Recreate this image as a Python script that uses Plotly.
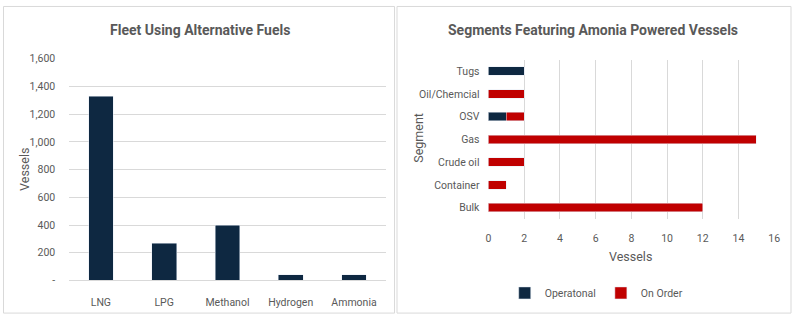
import plotly.graph_objects as go

W, H = 798, 322

fuels = ["LNG", "LPG", "Methanol", "Hydrogen", "Ammonia"]
fleet = [1330, 270, 400, 40, 40]

segments = ["Bulk", "Container", "Crude oil", "Gas", "OSV", "Oil/Chemcial", "Tugs"]
operational = [0, 0, 0, 0, 1, 0, 2]
on_order = [12, 1, 2, 15, 1, 2, 0]

left_ticks = [0, 200, 400, 600, 800, 1000, 1200, 1400, 1600]
left_ticktext = ["-", "200", "400", "600", "800", "1,000", "1,200", "1,400", "1,600"]

NAVY = "#0E2841"
RED = "#C00000"
TXT = "#595959"
GRID = "#D9D9D9"
FONT = "Roboto, Arial, sans-serif"
TICK = dict(size=10.5, color=TXT, family=FONT)

def px(x):
    return x / W

def py(y):
    return 1 - y / H

fig = go.Figure()

fig.add_trace(go.Bar(x=fuels, y=fleet, marker_color=NAVY, width=0.39,
                     xaxis="x", yaxis="y", showlegend=False))
fig.add_trace(go.Bar(y=segments, x=operational, orientation="h", marker_color=NAVY,
                     name="Operatonal", width=0.37, xaxis="x2", yaxis="y2"))
fig.add_trace(go.Bar(y=segments, x=on_order, orientation="h", marker_color=RED,
                     name="On Order", width=0.37, xaxis="x2", yaxis="y2"))

fig.update_layout(
    width=W, height=H,
    margin=dict(l=0, r=0, t=0, b=0),
    paper_bgcolor="white", plot_bgcolor="white",
    barmode="stack",
    font=dict(family=FONT, size=11, color=TXT),
    xaxis=dict(domain=[px(67), px(387)], anchor="y", showgrid=False,
               showline=True, linecolor=GRID, ticks="", tickfont=TICK,
               ticklabelstandoff=12),
    yaxis=dict(domain=[py(286), py(55)], anchor="x", range=[0, 1600],
               tickvals=left_ticks, ticktext=left_ticktext, showgrid=True,
               gridcolor=GRID, zeroline=False, ticks="", tickfont=TICK,
               ticklabelstandoff=13),
    xaxis2=dict(domain=[px(491), px(780)], anchor="y2", range=[0, 16], dtick=2,
                showgrid=True, gridcolor=GRID, zeroline=False, ticks="",
                tickfont=TICK, ticklabelstandoff=11),
    yaxis2=dict(domain=[py(222), py(56)], anchor="x2", categoryorder="array",
                categoryarray=segments, showgrid=False, ticks="",
                tickfont=TICK, ticklabelstandoff=8),
    legend=dict(orientation="h", x=px(600), xanchor="center", y=py(299), yanchor="middle",
                font=dict(size=10.5, color=TXT), traceorder="normal", itemwidth=30),
    shapes=[
        dict(type="rect", xref="paper", yref="paper", x0=px(0.5), x1=px(396), y0=py(320), y1=py(0.5),
             line=dict(color=GRID, width=1)),
        dict(type="rect", xref="paper", yref="paper", x0=px(398.5), x1=px(797), y0=py(320), y1=py(0.5),
             line=dict(color=GRID, width=1)),
    ],
    annotations=[
        dict(text="<b>Fleet Using Alternative Fuels</b>", x=px(199), y=py(25), xref="paper", yref="paper",
             xanchor="center", yanchor="middle",
             showarrow=False, font=dict(size=14, color=TXT, family=FONT)),
        dict(text="<b>Segments Featuring Amonia Powered Vessels</b>", x=px(597), y=py(25), xref="paper",
             yref="paper", xanchor="center", yanchor="middle",
             showarrow=False, font=dict(size=14, color=TXT, family=FONT)),
        dict(text="Vessels", x=px(21), y=py(170), xref="paper", yref="paper", textangle=-90,
             xanchor="center", yanchor="middle",
             showarrow=False, font=dict(size=12.5, color=TXT)),
        dict(text="Segment", x=px(420), y=py(137), xref="paper", yref="paper", textangle=-90,
             xanchor="center", yanchor="middle",
             showarrow=False, font=dict(size=12.5, color=TXT)),
        dict(text="Vessels", x=px(635), y=py(261), xref="paper", yref="paper",
             xanchor="center", yanchor="middle",
             showarrow=False, font=dict(size=12.5, color=TXT)),
    ],
)

fig.write_html("out.html")
